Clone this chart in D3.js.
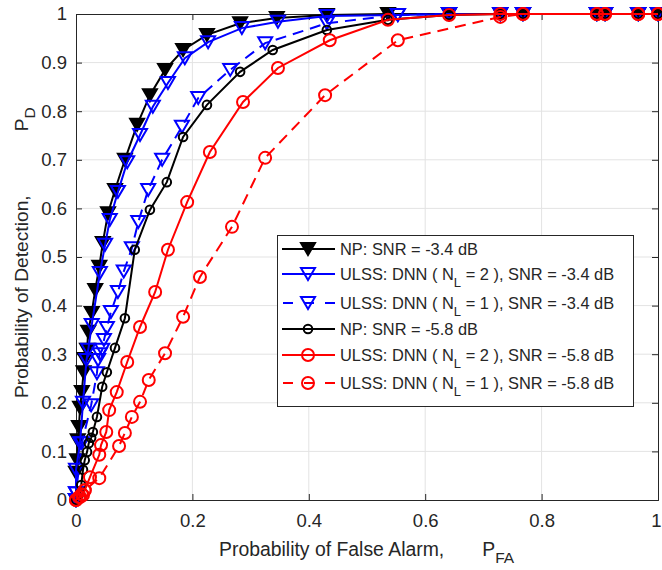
<!DOCTYPE html>
<html>
<head>
<meta charset="utf-8">
<script src="https://cdn.jsdelivr.net/npm/d3@7"></script>
<style>
  body { margin: 0; background: #fff; }
  svg text { font-family: "Liberation Sans", Arial, sans-serif; fill: #262626; }
</style>
</head>
<body>
<div id="chart"></div>
<script>
// ROC curves, values
let xTicks = [0, 0.2, 0.4, 0.6, 0.8, 1];
let yTicks = [0, 0.1, 0.2, 0.3, 0.4, 0.5, 0.6, 0.7, 0.8, 0.9, 1];

let npA_x = [0, 0.000, 0.002, 0.003, 0.005, 0.007, 0.010, 0.013, 0.015, 0.019, 0.021, 0.027, 0.033, 0.040, 0.046, 0.055, 0.067, 0.084, 0.105, 0.127, 0.153, 0.184, 0.225, 0.282, 0.345, 0.431, 0.536, 0.641, 0.729, 0.768, 0.895, 0.909, 0.966, 1];
let npA_y = [0, 0.056, 0.082, 0.123, 0.150, 0.190, 0.222, 0.263, 0.290, 0.309, 0.346, 0.385, 0.432, 0.480, 0.529, 0.590, 0.638, 0.700, 0.772, 0.833, 0.885, 0.926, 0.957, 0.981, 0.992, 0.998, 1, 1, 1, 1, 1, 1, 1, 1];

let dnn2A_x = [0, 0.000, 0.000, 0.007, 0.012, 0.018, 0.021, 0.027, 0.041, 0.050, 0.058, 0.072, 0.088, 0.110, 0.132, 0.158, 0.187, 0.227, 0.285, 0.347, 0.431, 0.553, 0.641, 0.729, 0.768, 0.895, 0.909, 0.966, 1];
let dnn2A_y = [0, 0.014, 0.062, 0.117, 0.200, 0.288, 0.309, 0.360, 0.467, 0.525, 0.576, 0.634, 0.695, 0.751, 0.809, 0.858, 0.909, 0.942, 0.971, 0.984, 0.996, 0.998, 1, 1, 1, 1, 1, 1, 1];

let dnn1A_x = [0, 0.000, 0.010, 0.026, 0.036, 0.038, 0.041, 0.045, 0.048, 0.053, 0.060, 0.072, 0.082, 0.096, 0.107, 0.124, 0.148, 0.182, 0.210, 0.265, 0.325, 0.431, 0.553, 0.641, 0.729, 0.768, 0.895, 0.909, 0.966, 1];
let dnn1A_y = [0, 0.014, 0.117, 0.195, 0.261, 0.288, 0.300, 0.309, 0.329, 0.354, 0.387, 0.428, 0.470, 0.518, 0.572, 0.638, 0.700, 0.768, 0.827, 0.885, 0.940, 0.981, 0.998, 1, 1, 1, 1, 1, 1, 1];

let npB_x = [0, 0.007, 0.009, 0.012, 0.015, 0.019, 0.022, 0.026, 0.029, 0.036, 0.045, 0.053, 0.067, 0.084, 0.101, 0.127, 0.156, 0.184, 0.225, 0.282, 0.338, 0.431, 0.536, 0.641, 0.729, 0.768, 0.895, 0.909, 0.966, 1];
let npB_y = [0, 0.014, 0.031, 0.062, 0.082, 0.099, 0.117, 0.128, 0.140, 0.171, 0.233, 0.263, 0.313, 0.374, 0.515, 0.597, 0.654, 0.747, 0.813, 0.881, 0.926, 0.967, 0.988, 0.998, 1, 1, 1, 1, 1, 1];

let dnn2B_x = [0, 0.007, 0.012, 0.015, 0.024, 0.040, 0.043, 0.052, 0.057, 0.070, 0.088, 0.110, 0.136, 0.158, 0.191, 0.230, 0.287, 0.347, 0.436, 0.536, 0.641, 0.729, 0.768, 0.895, 0.909, 0.966, 1];
let dnn2B_y = [0, 0.006, 0.010, 0.020, 0.047, 0.093, 0.113, 0.140, 0.185, 0.222, 0.284, 0.356, 0.428, 0.515, 0.613, 0.716, 0.819, 0.889, 0.946, 0.988, 0.998, 1, 1, 1, 1, 1, 1];

let dnn1B_x = [0, 0.005, 0.010, 0.015, 0.040, 0.074, 0.084, 0.096, 0.110, 0.125, 0.153, 0.184, 0.213, 0.268, 0.325, 0.428, 0.553, 0.729, 0.768, 0.895, 0.909, 0.966, 1];
let dnn1B_y = [0, 0.006, 0.012, 0.020, 0.045, 0.111, 0.138, 0.171, 0.202, 0.247, 0.302, 0.377, 0.459, 0.562, 0.704, 0.833, 0.946, 0.994, 1, 1, 1, 1, 1];

let series = [
  {label: ["NP: SNR = -3.4 dB"], xs: npA_x, ys: npA_y, color: "#000", dash: null, marker: "tri", fill: true},
  {label: ["ULSS: DNN ( N", "L", " = 2  ), SNR = -3.4 dB"], xs: dnn2A_x, ys: dnn2A_y, color: "#0000ff", dash: null, marker: "tri", fill: false},
  {label: ["ULSS: DNN ( N", "L", " = 1  ), SNR = -3.4 dB"], xs: dnn1A_x, ys: dnn1A_y, color: "#0000ff", dash: "11,7", marker: "tri", fill: false},
  {label: ["NP: SNR = -5.8 dB"], xs: npB_x, ys: npB_y, color: "#000", dash: null, marker: "circ", fill: false, small: true},
  {label: ["ULSS: DNN ( N", "L", " = 2  ), SNR = -5.8 dB"], xs: dnn2B_x, ys: dnn2B_y, color: "#ff0000", dash: null, marker: "circ", fill: false},
  {label: ["ULSS: DNN ( N", "L", " = 1  ), SNR = -5.8 dB"], xs: dnn1B_x, ys: dnn1B_y, color: "#ff0000", dash: "11,7", marker: "circ", fill: false}
];

let W = 662, H = 570;
let mLeft = 76, mRight = 658, mTop = 14, mBottom = 500;

let svg = d3.select("#chart").append("svg")
    .attr("width", W)
    .attr("height", H);

let x = d3.scaleLinear().domain([0, 1]).range([mLeft, mRight]);
let y = d3.scaleLinear().domain([0, 1]).range([mBottom, mTop]);

// grid
svg.append("g").selectAll("line").data(xTicks.slice(1, -1)).enter().append("line")
    .attr("x1", d => x(d)).attr("x2", d => x(d))
    .attr("y1", mTop).attr("y2", mBottom)
    .attr("stroke", "#e3e3e3").attr("stroke-width", 1);
svg.append("g").selectAll("line").data(yTicks.slice(1, -1)).enter().append("line")
    .attr("y1", d => y(d)).attr("y2", d => y(d))
    .attr("x1", mLeft).attr("x2", mRight)
    .attr("stroke", "#e3e3e3").attr("stroke-width", 1);

// axes (MATLAB box style, ticks inside)
let xAxis = d3.axisBottom(x).tickValues(xTicks).tickSize(-6).tickPadding(14).tickFormat(d3.format("~g"));
let yAxis = d3.axisLeft(y).tickValues(yTicks).tickSize(-6).tickPadding(9).tickFormat(d3.format("~g"));
let gx = svg.append("g").attr("transform", `translate(0,${mBottom})`).call(xAxis);
let gy = svg.append("g").attr("transform", `translate(${mLeft},0)`).call(yAxis);
let gx2 = svg.append("g").attr("transform", `translate(0,${mTop})`)
    .call(d3.axisTop(x).tickValues(xTicks).tickSize(-6).tickFormat(""));
let gy2 = svg.append("g").attr("transform", `translate(${mRight},0)`)
    .call(d3.axisRight(y).tickValues(yTicks).tickSize(-6).tickFormat(""));
[gx, gy, gx2, gy2].forEach(g => {
  g.select(".domain").attr("stroke", "#262626").attr("stroke-width", 1);
  g.selectAll(".tick line").attr("stroke", "#262626");
  g.selectAll("text").attr("font-size", 18.5).attr("fill", "#262626")
    .style("font-family", "'Liberation Sans', Arial, sans-serif");
});
// the last x tick label sits right at the window edge, keep it inside
gx.selectAll(".tick text").filter(d => d === 1).attr("text-anchor", "end").attr("dx", 3);

let line = d3.line();

function drawMarker(g, m, cx, cy) {
  if (m.marker === "tri") {
    let w = 7, h = 12;
    g.append("path")
      .attr("d", `M${cx - w},${cy - h / 2}L${cx + w},${cy - h / 2}L${cx},${cy + h / 2}Z`)
      .attr("fill", m.fill ? m.color : "none")
      .attr("stroke", m.color).attr("stroke-width", 2);
  } else {
    g.append("circle").attr("cx", cx).attr("cy", cy).attr("r", m.small ? 4.3 : 6)
      .attr("fill", "none").attr("stroke", m.color).attr("stroke-width", 2);
  }
}

series.forEach(s => {
  let pts = s.xs.map((v, i) => [x(v), y(s.ys[i])]);
  let g = svg.append("g");
  g.append("path").attr("d", line(pts))
    .attr("fill", "none").attr("stroke", s.color).attr("stroke-width", 2)
    .attr("stroke-dasharray", s.dash);
  pts.forEach(p => drawMarker(g, s, p[0], p[1]));
});

// legend
let lg = svg.append("g");
lg.append("rect").attr("x", 277.5).attr("y", 235.5).attr("width", 356).attr("height", 171)
  .attr("fill", "#fff").attr("stroke", "#262626").attr("stroke-width", 1);
let rowY = [249, 274, 303, 329, 355, 383];
series.forEach((s, i) => {
  let yy = rowY[i];
  lg.append("line").attr("x1", 282).attr("x2", 335).attr("y1", yy).attr("y2", yy)
    .attr("stroke", s.color).attr("stroke-width", 2).attr("stroke-dasharray", s.dash ? "10,11" : null)
    .attr("stroke-dashoffset", s.dash ? -1 : null);
  drawMarker(lg, s, 308, yy);
  let t = lg.append("text").attr("x", 340).attr("y", yy + 6).attr("font-size", 16.4);
  t.append("tspan").text(s.label[0]);
  if (s.label.length > 1) {
    t.append("tspan").attr("dy", 7).attr("font-size", 13).text(s.label[1]);
    t.append("tspan").attr("dy", -7).text(s.label[2]);
  }
});

// axis labels
let xl = svg.append("text").attr("x", 219).attr("y", 556).attr("font-size", 19.4);
xl.append("tspan").text("Probability of False Alarm,");
xl.append("tspan").attr("dx", 38).text("P");
xl.append("tspan").attr("dy", 7).attr("font-size", 15.5).text("FA");

let yl = svg.append("text").attr("transform", "translate(28,398) rotate(-90)").attr("font-size", 19.2);
yl.append("tspan").text("Probability of Detection,");
yl.append("tspan").attr("dx", 64).text("P");
yl.append("tspan").attr("dy", 7).attr("font-size", 15.5).text("D");
</script>
</body>
</html>
